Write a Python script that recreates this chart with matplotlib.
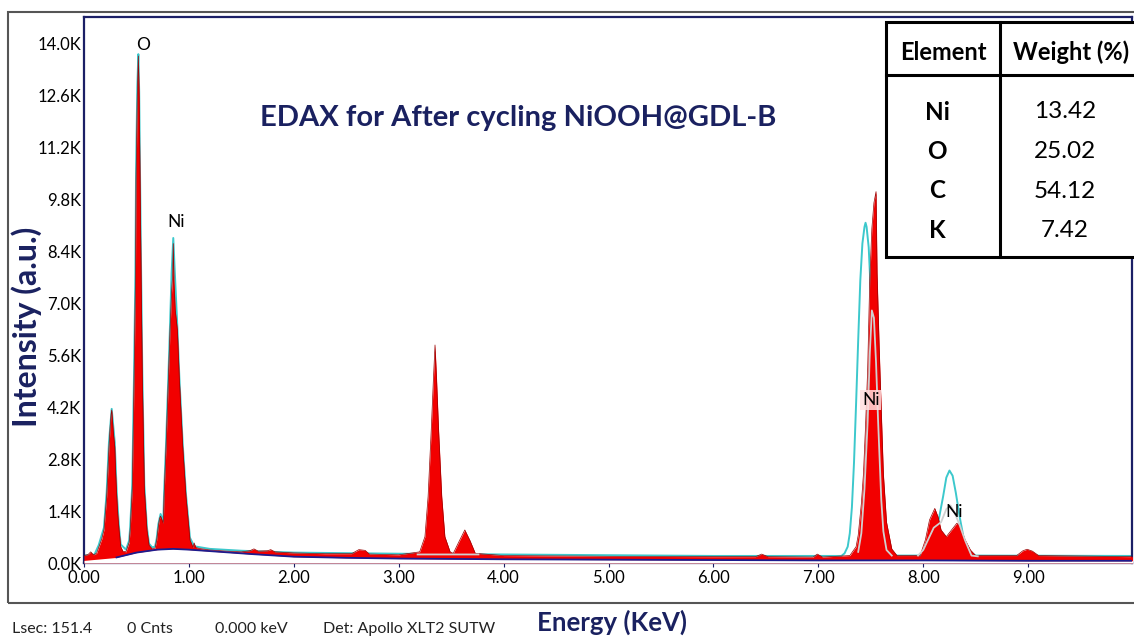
import numpy as np
import matplotlib
matplotlib.use("Agg")
import matplotlib.pyplot as plt
from matplotlib.patches import Rectangle
from matplotlib.lines import Line2D

plt.rcParams['font.family'] = ['Lato', 'DejaVu Sans']

# ---------------- data ----------------
spec_energy = [0.00, 0.04, 0.064, 0.09, 0.12, 0.143, 0.17, 0.19, 0.205, 0.216, 0.228, 0.238, 0.25, 0.258,
               0.264, 0.272, 0.28, 0.293, 0.302, 0.312, 0.322, 0.334, 0.35, 0.37, 0.40,
               0.43, 0.44, 0.46, 0.477, 0.49, 0.496, 0.508, 0.518, 0.526, 0.534, 0.545, 0.556, 0.575,
               0.60, 0.62, 0.65, 0.677, 0.693, 0.709, 0.72, 0.73, 0.745, 0.756, 0.763, 0.782, 0.804,
               0.82, 0.835, 0.845, 0.851, 0.857, 0.87, 0.89, 0.909, 0.941, 0.972, 1.01, 1.04, 1.05,
               1.065, 1.10, 1.20, 1.35, 1.50, 1.58, 1.62, 1.66, 1.75, 1.78, 1.82, 2.00, 2.30, 2.55,
               2.62, 2.68, 2.72, 3.00, 3.20, 3.25, 3.28, 3.31, 3.33, 3.346, 3.36, 3.38, 3.41, 3.44,
               3.49, 3.52, 3.57, 3.63, 3.68, 3.73, 4.00, 5.00, 6.00, 6.40, 6.46, 6.52, 6.95, 6.99,
               7.04, 7.30, 7.36, 7.38, 7.41, 7.43, 7.45, 7.47, 7.49, 7.51, 7.53, 7.55, 7.56, 7.58,
               7.59, 7.62, 7.65, 7.70, 7.75, 7.97, 8.02, 8.06, 8.11, 8.14, 8.17, 8.22, 8.27, 8.32,
               8.35, 8.40, 8.45, 8.50, 8.89, 8.95, 8.99, 9.04, 9.10, 10.0]
spec_counts = [200, 230, 300, 220, 260, 440, 650, 890, 1400, 1790, 2500, 3130, 3700, 4000,
               4120, 3800, 3500, 3130, 2400, 1790, 1300, 890, 440, 320, 300,
               550, 890, 2000, 4930, 7500, 10300, 12600, 13650, 12500, 10300, 7500, 4930, 2000,
               890, 480, 380, 400, 620, 1000, 1200, 1260, 1150, 1070, 1790, 3130, 4930,
               6270, 7300, 7750, 8600, 7600, 6800, 6270, 4930, 3130, 1790, 620, 420, 540,
               420, 390, 350, 320, 300, 330, 380, 320, 330, 360, 300, 270, 250, 250,
               360, 340, 240, 220, 300, 710, 1790, 3580, 4900, 5870, 5000, 3580, 1790, 710,
               300, 260, 550, 890, 600, 260, 200, 180, 170, 170, 240, 170, 160, 240,
               160, 200, 440, 750, 1600, 2400, 3700, 5200, 7620, 9000, 9700, 10000, 7800, 5800,
               4930, 2400, 1100, 380, 200, 200, 620, 1160, 1470, 1250, 890, 710, 890, 1070,
               1000, 620, 350, 200, 200, 330, 370, 320, 200, 170]

fit_energy = [0.00, 0.05, 0.10, 0.14, 0.19, 0.216, 0.238, 0.264, 0.293, 0.312, 0.334, 0.35, 0.40,
              0.43, 0.44, 0.46, 0.477, 0.49, 0.496, 0.508, 0.518, 0.526, 0.534, 0.545, 0.556, 0.575,
              0.60, 0.62, 0.65, 0.677, 0.693, 0.709, 0.73, 0.756, 0.763, 0.782, 0.804, 0.82, 0.835,
              0.851, 0.866, 0.89, 0.909, 0.941, 0.972, 1.01, 1.05, 1.20, 1.50, 2.00, 3.00, 4.00,
              6.00, 7.22, 7.25, 7.28, 7.30, 7.32, 7.34, 7.36, 7.38, 7.40, 7.42, 7.44, 7.45, 7.46,
              7.48, 7.50, 7.52, 7.54, 7.56, 7.59, 7.65, 8.00, 8.05, 8.10, 8.15, 8.19, 8.22, 8.25,
              8.28, 8.31, 8.35, 8.39, 8.44, 8.50, 10.0]
fit_counts = [210, 200, 230, 480, 950, 1900, 3250, 4150, 3250, 1900, 950, 500, 360,
              600, 950, 2100, 5100, 7800, 10500, 12800, 13700, 12700, 10500, 7700, 5100, 2100,
              950, 520, 420, 440, 660, 1050, 1320, 1130, 1850, 3200, 5000, 6400, 7800,
              8750, 7800, 6350, 5000, 3200, 1850, 680, 450, 380, 330, 280, 250, 230,
              190, 190, 260, 440, 800, 1500, 2700, 4300, 6000, 7600, 8600, 9050, 9160, 9050,
              8500, 7300, 5600, 3800, 2200, 900, 200, 200, 300, 600, 1200, 1800, 2300, 2490,
              2350, 1900, 1200, 600, 300, 200, 190]

gray_energy = [3.18, 3.76, np.nan,
               7.38, 7.41, 7.44, 7.47, 7.49, 7.51, 7.53, 7.55, 7.57, 7.60, 7.62, 7.65, 7.70, np.nan,
               7.95, 8.00, 8.05, 8.10, 8.17, 8.22, 8.26, 8.30, 8.35, 8.40, 8.46, 8.52]
gray_counts = [230, 230, np.nan,
               300, 800, 2000, 3800, 5600, 6800, 6600, 5400, 3800, 1700, 850, 350, 200, np.nan,
               200, 350, 650, 950, 1100, 1450, 1550, 1350, 1000, 600, 200, 180]

bg_energy = [0.00, 0.31, 0.50, 0.70, 0.85, 1.00, 1.30, 1.60, 2.00, 2.50, 3.00, 4.00, 5.00, 6.00,
             7.00, 8.00, 9.00, 10.0]
bg_counts = [70, 150, 280, 360, 380, 360, 300, 240, 170, 140, 120, 100, 90, 80, 70, 70, 60, 60]

x_ticks = [0, 1, 2, 3, 4, 5, 6, 7, 8, 9]
x_tick_labels = ['0.00', '1.00', '2.00', '3.00', '4.00', '5.00', '6.00', '7.00', '8.00', '9.00']
y_ticks = [0, 1400, 2800, 4200, 5600, 7000, 8400, 9800, 11200, 12600, 14000]
y_tick_labels = ['0.0K', '1.4K', '2.8K', '4.2K', '5.6K', '7.0K', '8.4K', '9.8K', '11.2K', '12.6K', '14.0K']

peak_labels = ['O', 'Ni', 'Ni', 'Ni']
table_elements = ['Ni', 'O', 'C', 'K']
table_weights = ['13.42', '25.02', '54.12', '7.42']
footer_items = ['Lsec: 151.4', '0 Cnts', '0.000 keV', 'Det: Apollo XLT2 SUTW']

# ---------------- figure ----------------
W, H = 1134, 642
fig = plt.figure(figsize=(W / 100, H / 100), dpi=100)
fx = lambda x: x / W
fy = lambda y: 1 - y / H

NAVY = '#1b1f66'
ax = fig.add_axes([fx(84), fy(563), fx(1132) - fx(84), fy(17) - fy(563)])
ax.set_xlim(0, 9.99)
ax.set_ylim(0, 14700)

ax.plot(fit_energy, fit_counts, color='#3cc8cc', lw=1.4, zorder=2)
ax.fill_between(spec_energy, 0, spec_counts, color='#f20000', lw=0, zorder=3)
ax.plot(spec_energy, spec_counts, color='#9a0000', lw=0.5, zorder=3.5)
ax.fill_between(bg_energy, 0, bg_counts, color='white', lw=0, zorder=4)
ax.plot(gray_energy, gray_counts, color='#d0d0d0', lw=1.3, zorder=5)
bg_e = np.array(bg_energy)
bg_c = np.array(bg_counts)
m = bg_e >= 0.31
ax.plot(bg_e[m], bg_c[m], color='#1c1c8f', lw=1.3, zorder=6)

for s in ax.spines.values():
    s.set_color(NAVY)
    s.set_linewidth(1.6)

ax.set_xticks(x_ticks)
ax.set_xticklabels(x_tick_labels)
ax.set_yticks(y_ticks)
ax.set_yticklabels(y_tick_labels)
ax.tick_params(axis='x', length=3, color=NAVY, labelsize=12, pad=2)
ax.tick_params(axis='y', length=0, labelsize=12, pad=2)

# peak labels
label_pos = [(0.562, 13950), (0.877, 9180), (7.50, 4390), (8.29, 1370)]
for i, (t, (xe, yc)) in enumerate(zip(peak_labels, label_pos)):
    kw = {}
    if i == 2:
        kw['bbox'] = dict(boxstyle='square,pad=0.1', fc='#ffdede', ec='none', alpha=0.85)
    ax.text(xe, yc, t, ha='center', va='center', fontsize=12.5, color='black', zorder=8, **kw)

# title
fig.text(fx(518), fy(118), 'EDAX for After cycling NiOOH@GDL-B', ha='center', va='center',
         fontsize=21, fontweight='bold', color='#1a2160')

# axis labels
fig.text(fx(27), fy(327), 'Intensity (a.u.)', rotation=90, ha='center', va='center',
         fontsize=23, fontweight='bold', color='#1a2160')
fig.text(fx(612), fy(622), 'Energy (KeV)', ha='center', va='center',
         fontsize=18.5, fontweight='bold', color='#1a2160')

# footer
for t, xl in zip(footer_items, [12, 127, 215, 323]):
    fig.text(fx(xl), fy(629), t, ha='left', va='center', fontsize=11.5, color='#222222')

# outer frame
fig.add_artist(Rectangle((fx(8), fy(603)), fx(1140) - fx(8), fy(12) - fy(603),
                         transform=fig.transFigure, fill=False, ec='#555555', lw=1.5))

# table
tl, tr, tt, tb = 886, 1140, 22, 257
fig.add_artist(Rectangle((fx(tl), fy(tb)), fx(tr) - fx(tl), fy(tt) - fy(tb),
                         transform=fig.transFigure, fc='white', ec='black', lw=2.2, zorder=10))
fig.add_artist(Line2D([fx(tl), fx(tr)], [fy(75), fy(75)], transform=fig.transFigure,
                      color='black', lw=2.2, zorder=11))
fig.add_artist(Line2D([fx(1000), fx(1000)], [fy(tt), fy(tb)], transform=fig.transFigure,
                      color='black', lw=2.2, zorder=11))
fig.text(fx(943), fy(52), 'Element', ha='center', va='center', fontsize=17,
         fontweight='bold', color='black', zorder=12)
fig.text(fx(1071), fy(52), 'Weight (%)', ha='center', va='center', fontsize=17,
         fontweight='bold', color='black', zorder=12)
for i, (el, wt) in enumerate(zip(table_elements, table_weights)):
    yy = 112 + i * 39.5
    fig.text(fx(937), fy(yy), el, ha='center', va='center', fontsize=17.5,
             fontweight='bold', color='black', zorder=12)
    fig.text(fx(1065), fy(yy), wt, ha='center', va='center', fontsize=17.5,
             color='black', zorder=12)

fig.savefig('out.png', dpi=100)
